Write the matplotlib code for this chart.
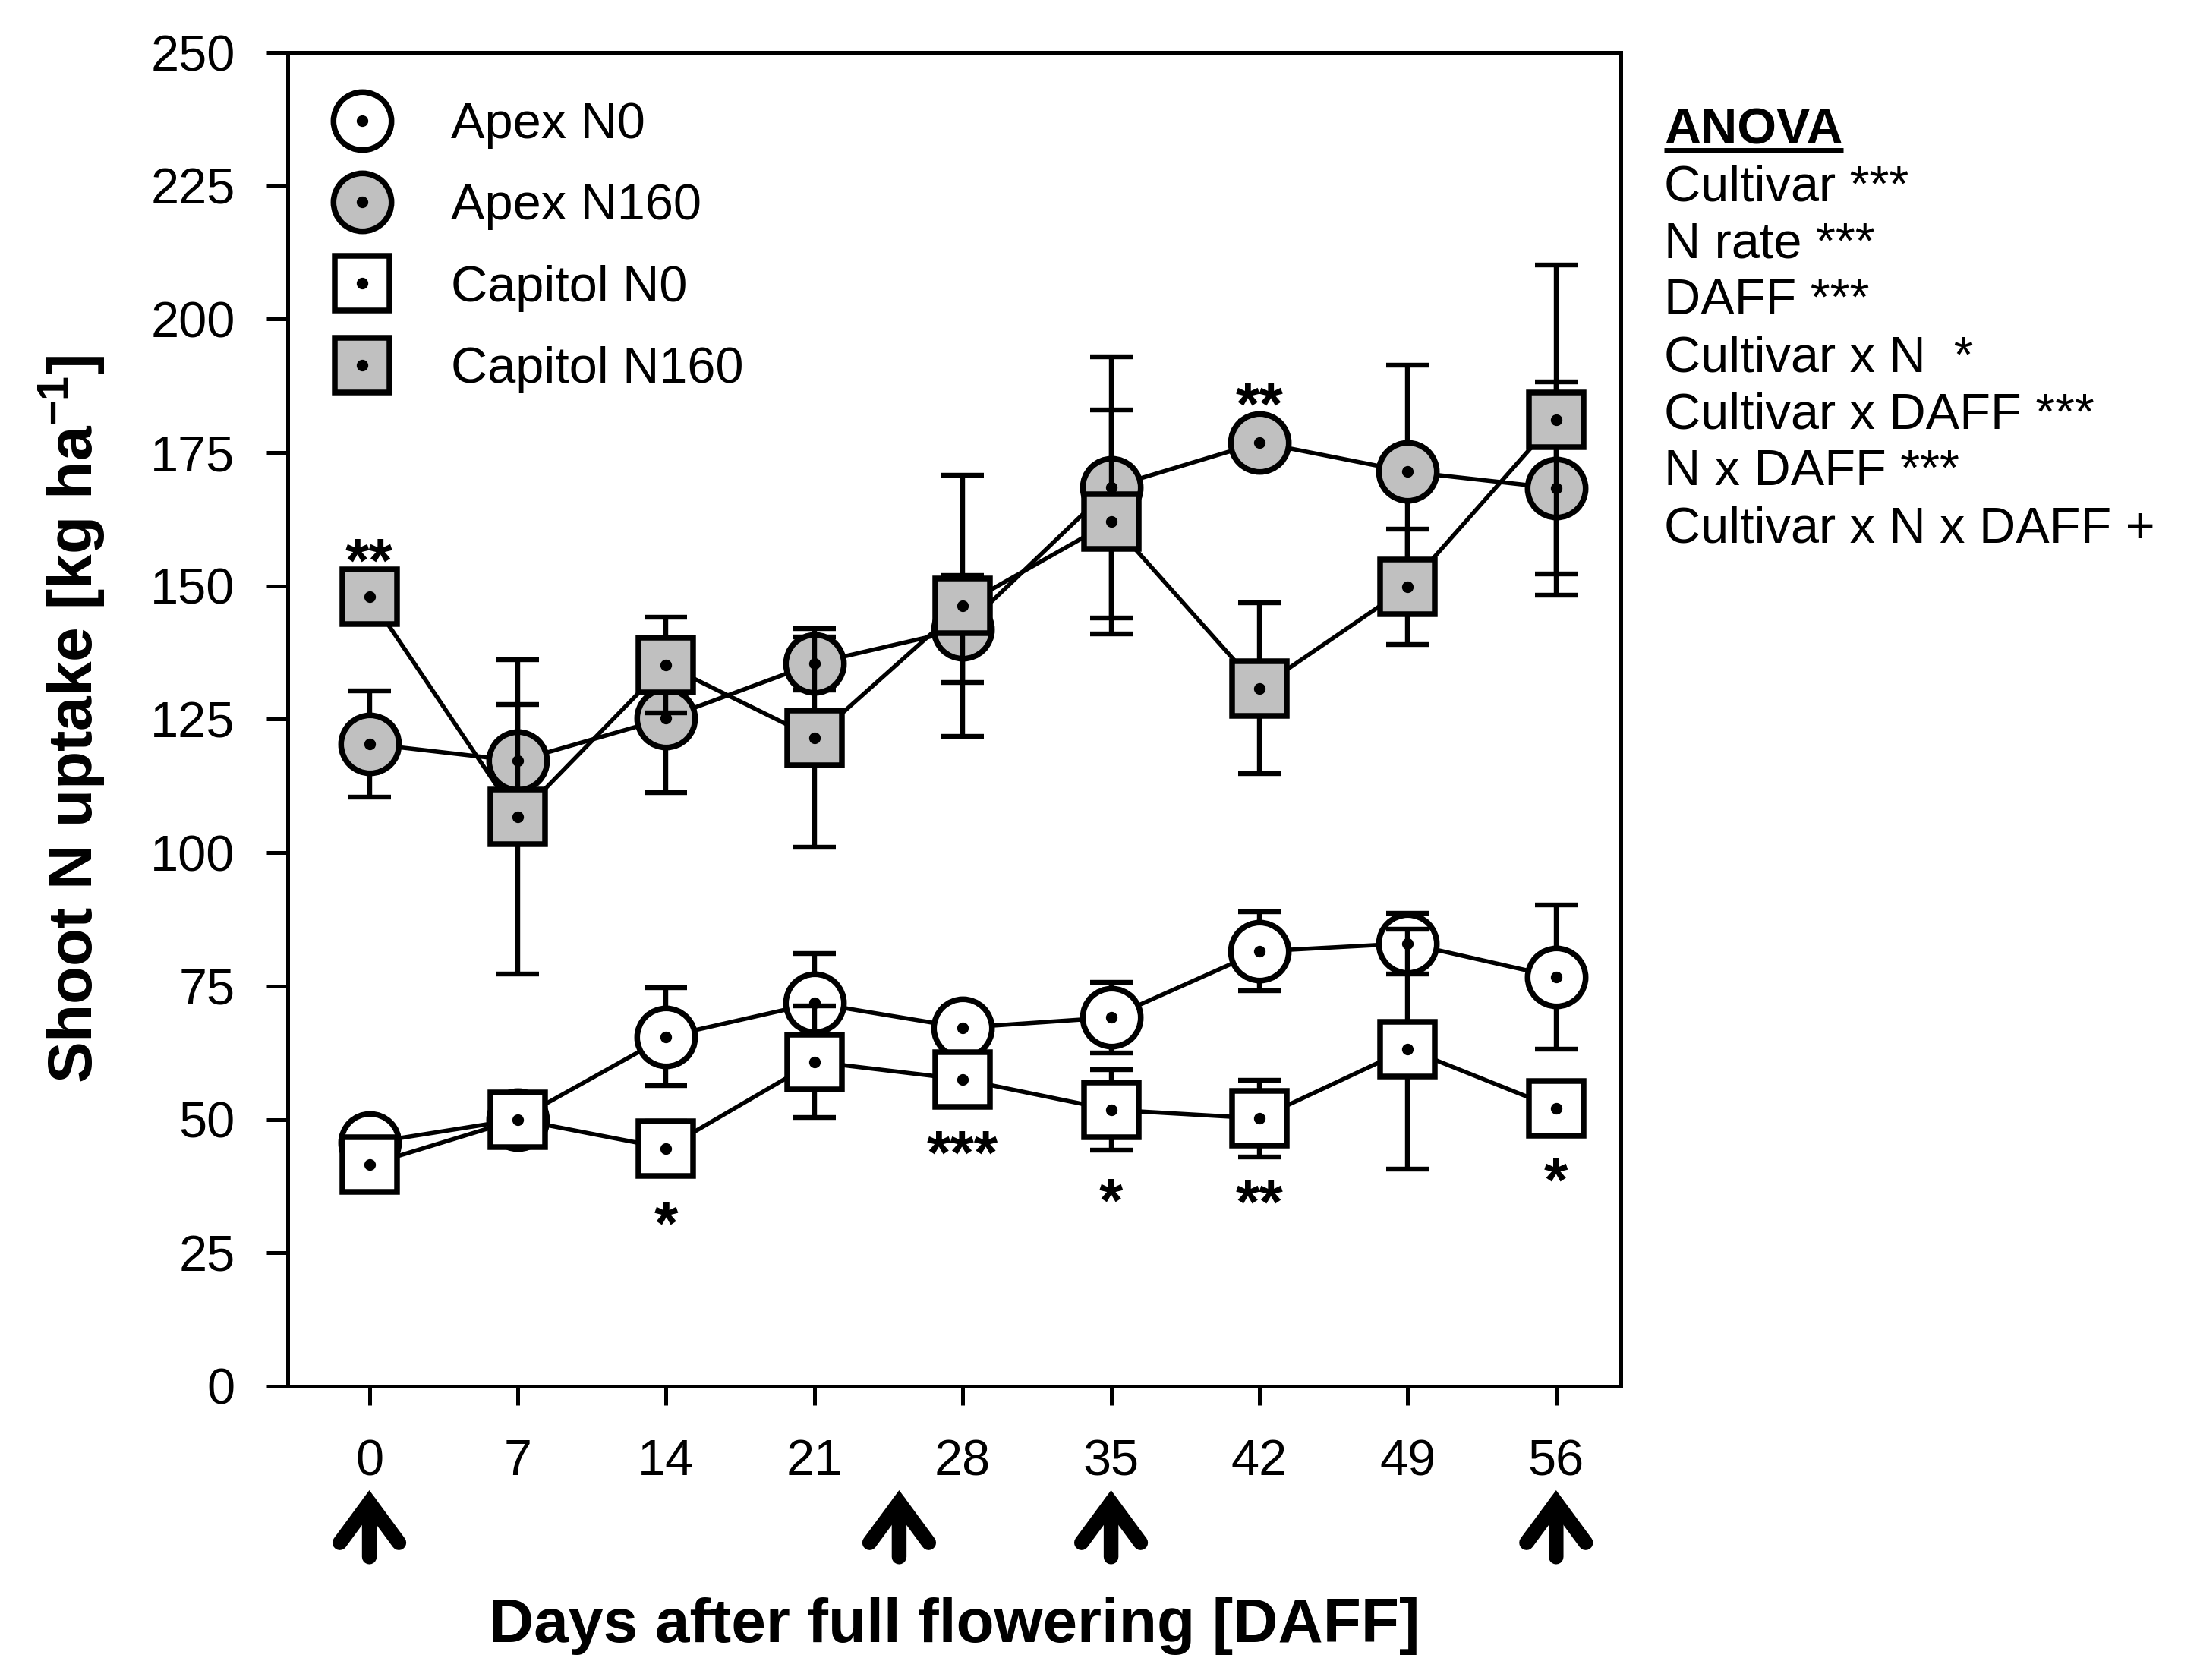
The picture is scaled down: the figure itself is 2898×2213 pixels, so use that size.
import matplotlib
matplotlib.use("Agg")
import matplotlib.pyplot as plt
from matplotlib.lines import Line2D
from matplotlib.legend_handler import HandlerTuple

plt.rcParams['font.family'] = ['Liberation Sans', 'DejaVu Sans']
plt.rcParams['mathtext.fontset'] = 'custom'
plt.rcParams['mathtext.rm'] = 'Liberation Sans'
plt.rcParams['mathtext.bf'] = 'Liberation Sans:bold'

# Data
daff = [0, 7, 14, 21, 28, 35, 42, 49, 56]

apex_n0 = [45.6, 50.0, 65.5, 71.8, 67.2, 69.1, 81.5, 83.0, 76.7]
apex_n0_err = [3, 3, 9.2, 9.3, 4, 6.6, 7.4, 5.7, 13.5]
apex_n160 = [120.4, 117.2, 125.2, 135.5, 141.9, 168.5, 176.9, 171.4, 168.3]
apex_n160_err = [10, 10.6, 14, 5, 10, 24.5, 4, 20, 20]
capitol_n0 = [41.5, 50.0, 44.6, 60.8, 57.5, 51.8, 50.2, 63.2, 52.1]
capitol_n0_err = [3, 4, 5, 10.5, 4, 7.6, 7.2, 22.5, 4]
capitol_n160 = [148.0, 106.7, 135.2, 121.5, 146.3, 162.0, 130.8, 149.8, 181.2]
capitol_n160_err = [3, 29.5, 9, 20.5, 24.5, 21, 16, 10.8, 29]

# significance marks
star_x = [0, 42, 14, 28, 35, 42, 56]
star_y = [157.4, 186.7, 33.2, 46.5, 37.5, 37.2, 41.3]
star_txt = ["**", "**", "*", "***", "*", "**", "*"]

# sampling arrows below the x axis
arrow_days = [0, 25, 35, 56]

anova_title = "ANOVA"
anova_lines = ["Cultivar ***", "N rate ***", "DAFF ***", "Cultivar x N  *",
               "Cultivar x DAFF ***", "N x DAFF ***", "Cultivar x N x DAFF +"]

grey = "#c0c0c0"
series = [
    ("Apex N0", apex_n0, apex_n0_err, "o", "white", 27.5),
    ("Apex N160", apex_n160, apex_n160_err, "o", grey, 27.5),
    ("Capitol N0", capitol_n0, capitol_n0_err, "s", "white", 26),
    ("Capitol N160", capitol_n160, capitol_n160_err, "s", grey, 26),
]

fig = plt.figure(figsize=(14.49, 11.065), dpi=200)
ax = fig.add_axes([0.1308, 0.1749, 0.6059, 0.7939])

handles = []
for i, (label, y, err, mk, fc, ms) in enumerate(series):
    z = 2 + i
    ax.errorbar(daff, y, yerr=err, fmt='none', ecolor='black', elinewidth=2.3,
                capsize=10, capthick=2.3, zorder=z)
    ax.plot(daff, y, '-', color='black', lw=2.0, marker=mk, ms=ms, mfc=fc,
            mec='black', mew=2.7, zorder=z + 0.1)
    ax.plot(daff, y, 'o', color='black', ms=4.5, zorder=z + 0.2)
    h1 = Line2D([], [], ls='none', marker=mk, ms=ms, mfc=fc, mec='black', mew=2.7)
    h2 = Line2D([], [], ls='none', marker='o', ms=4.5, color='black')
    handles.append((h1, h2))

for sx, sy, st in zip(star_x, star_y, star_txt):
    ax.annotate(st, (sx, sy), xytext=(0, -0.57 * 29), textcoords='offset points',
                ha='center', va='baseline', fontsize=29, fontweight='bold', zorder=10)

ax.set_xlim(-3.85, 59.05)
ax.set_ylim(0, 250)
ax.set_xticks(daff)
ax.set_yticks(range(0, 251, 25))
for sp in ax.spines.values():
    sp.set_linewidth(1.8)
ax.tick_params(axis='y', direction='out', length=10, width=1.8, pad=15, labelsize=24)
ax.tick_params(axis='x', direction='out', length=9, width=1.8, pad=16, labelsize=24)

ax.set_xlabel("Days after full flowering [DAFF]", fontsize=29.5, fontweight='bold')
ax.xaxis.set_label_coords(0.5, -0.158)
ax.set_ylabel(r"Shoot N uptake [kg ha$^{\mathbf{-1}}$]", fontsize=29.5, fontweight='bold')
ax.yaxis.set_label_coords(-0.1355, 0.5)

xt = ax.get_xaxis_transform()
for xa in arrow_days:
    ax.annotate('', xy=(xa, -0.078), xytext=(xa, -0.128), xycoords=xt, textcoords=xt,
                annotation_clip=False,
                arrowprops=dict(arrowstyle='->,head_length=0.95,head_width=0.7',
                                lw=7, color='black', mutation_scale=20,
                                shrinkA=0, shrinkB=0, joinstyle='miter'))

leg = ax.legend(handles, [s[0] for s in series], handler_map={tuple: HandlerTuple(ndivide=1)},
                loc='upper left', bbox_to_anchor=(0.018, 0.963), frameon=False,
                fontsize=24, borderpad=0, borderaxespad=0, handlelength=2,
                handletextpad=0.75, labelspacing=0.68)

# ANOVA box at the right
tx = 1.0325
y0 = 0.9317
step = 0.0427
t_title = ax.text(tx, y0, anova_title, transform=ax.transAxes, fontsize=24,
                  fontweight='bold', ha='left', va='baseline')
for i, line in enumerate(anova_lines):
    ax.text(tx, y0 - (i + 1) * step, line, transform=ax.transAxes, fontsize=24,
            ha='left', va='baseline')

fig.canvas.draw()
bb = t_title.get_window_extent(fig.canvas.get_renderer())
bb_ax = bb.transformed(ax.transAxes.inverted())
ax.plot([bb_ax.x0, bb_ax.x1], [0.9266, 0.9266], transform=ax.transAxes,
        color='black', lw=2.5, clip_on=False, solid_capstyle='butt')

fig.savefig("out.png", dpi=200)
